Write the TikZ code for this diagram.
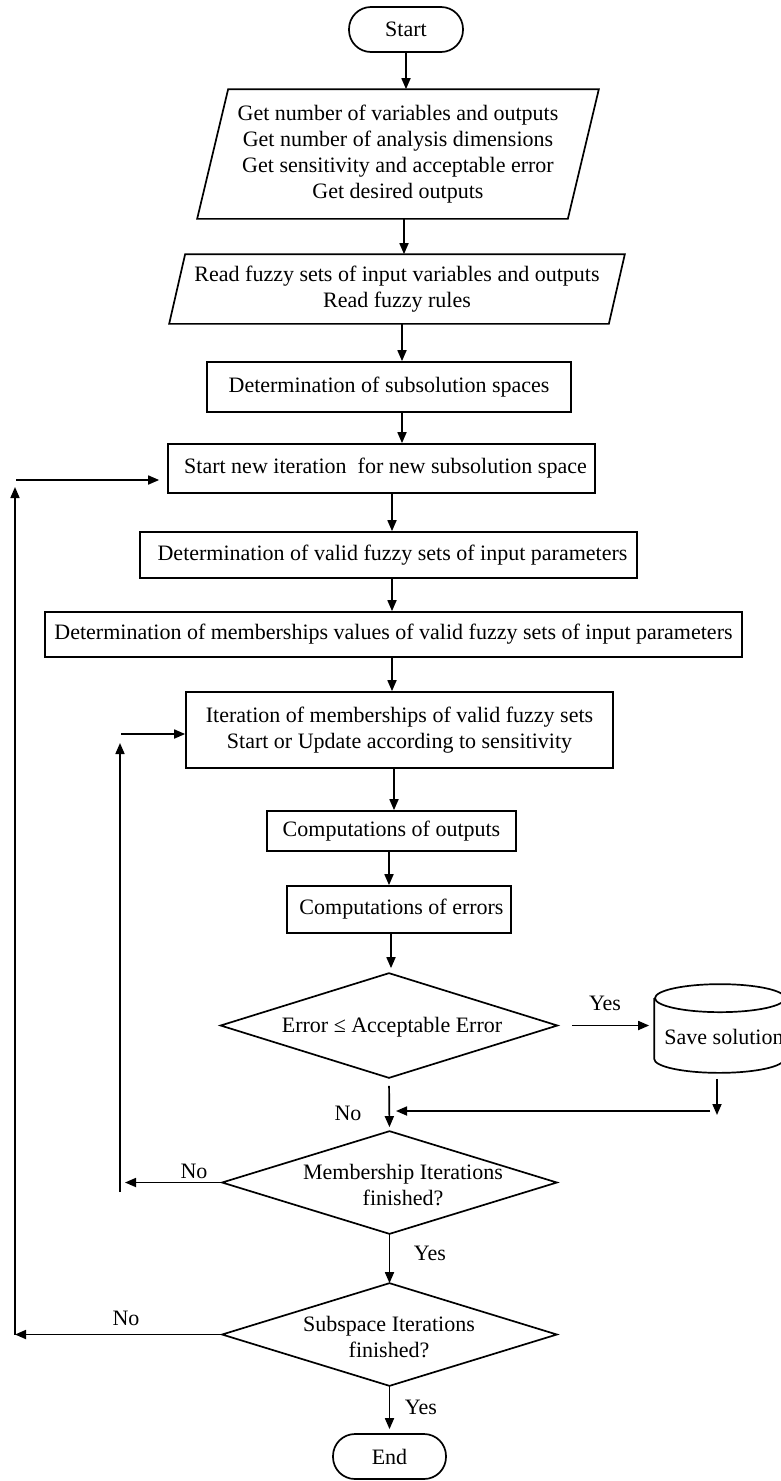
\documentclass[tikz,border=0pt]{standalone}
\usepackage{fontspec}
\setmainfont{Liberation Serif}
\usetikzlibrary{arrows.meta,calc}
\begin{document}
\begin{tikzpicture}[x=1pt,y=-1pt,
  font=\fontsize{22}{26}\selectfont,
  line width=1.7pt,
  arr/.style={-{Triangle[length=11pt,width=9pt]}},
  plainbox/.style={draw, rectangle, align=center, inner sep=0pt},
  ghost/.style={rectangle, align=center, inner sep=0pt},
  term/.style={draw, rectangle, rounded corners=22pt, minimum width=114pt, minimum height=45pt, inner sep=0pt},
  lbl/.style={inner sep=0pt}]
\fill[white] (0,0) rectangle (781,1481);
\useasboundingbox (0,0) rectangle (781,1481);

% terminals
\node[term] (start) at (406,29.5) {Start};
\node[term, minimum width=113pt] (end) at (389.5,1456.5) {End};

% parallelograms
\node[ghost, minimum width=369pt, minimum height=128pt] (p1) at (398,154)
  {Get number of variables and outputs\\Get number of analysis dimensions\\Get sensitivity and acceptable error\\Get desired outputs};
\draw ([xshift=15.5pt]p1.north west) -- ([xshift=15.5pt]p1.north east) -- ([xshift=-15.5pt]p1.south east) -- ([xshift=-15.5pt]p1.south west) -- cycle;

\node[ghost, minimum width=438pt, minimum height=68pt] (p2) at (397,289)
  {Read fuzzy sets of input variables and outputs\\Read fuzzy rules};
\draw ([xshift=8pt]p2.north west) -- ([xshift=8pt]p2.north east) -- ([xshift=-8pt]p2.south east) -- ([xshift=-8pt]p2.south west) -- cycle;

% process boxes
\node[plainbox, minimum width=364pt, minimum height=50pt] (b3) at (389,387) {Determination of subsolution spaces};
\node[plainbox, minimum width=427pt, minimum height=49pt] (b4) at (381.5,468.5) {\hspace{8pt}Start new iteration\ \ for new subsolution space};
\node[plainbox, minimum width=497pt, minimum height=46pt] (b5) at (388.5,555) {\hspace{8pt}Determination of valid fuzzy sets of input parameters};
\node[plainbox, minimum width=697pt, minimum height=45pt] (b6) at (393.5,634.5) {Determination of memberships values of valid fuzzy sets of input parameters};
\node[plainbox, minimum width=427pt, minimum height=76pt] (b7) at (399.5,730) {Iteration of memberships of valid fuzzy sets\\Start or Update according to sensitivity};
\node[plainbox, minimum width=249pt, minimum height=40pt] (b8) at (391.5,831) {Computations of outputs};
\node[plainbox, minimum width=224pt, minimum height=47pt] (b9) at (399,909.5) {\hspace{5pt}Computations of errors};

% decisions
\node[ghost, minimum width=335pt, minimum height=103pt] (d1) at (389,1025.5) {};
\draw (d1.north) -- (d1.east) -- (d1.south) -- (d1.west) -- cycle;
\node[ghost] (d1t) at (392,1027) {Error ≤ Acceptable Error};

\node[ghost, minimum width=333pt, minimum height=101pt] (d2) at (389.5,1182.5) {};
\draw (d2.north) -- (d2.east) -- (d2.south) -- (d2.west) -- cycle;
\node[ghost] (d2t) at (403,1185.5) {Membership Iterations\\finished?};

\node[ghost, minimum width=333pt, minimum height=101pt] (d3) at (389.5,1334.5) {};
\draw (d3.north) -- (d3.east) -- (d3.south) -- (d3.west) -- cycle;
\node[ghost] (d3t) at (389,1337.5) {Subspace Iterations\\finished?};

% storage
\node[ghost, minimum width=130pt, minimum height=87pt] (save) at (720,1028.5) {};
\draw ([yshift=-14pt]save.north west) -- ([yshift=14pt]save.south west)
  arc[start angle=180, end angle=360, x radius=65pt, y radius=14pt]
  -- ([yshift=-14pt]save.north east);
\draw ([yshift=-14pt]save.north) ellipse[x radius=65pt, y radius=14pt];
\node[ghost] (savet) at (724,1037) {Save solution};

% main flow connectors
\draw[arr] (start.south) -- (start.south |- p1.north);
\coordinate (c2) at ([xshift=6pt]p1.south);
\draw[arr] (c2) -- (c2 |- p2.north);
\coordinate (c3) at ([xshift=5pt]p2.south);
\draw[arr] (c3) -- (c3 |- b3.north);
\coordinate (c4) at ([xshift=13pt]b3.south);
\draw[arr] (c4) -- (c4 |- b4.north);
\coordinate (c5) at ([xshift=10.5pt]b4.south);
\draw[arr] (c5) -- (c5 |- b5.north);
\coordinate (c6) at ([xshift=3.5pt]b5.south);
\draw[arr] (c6) -- (c6 |- b6.north);
\coordinate (c7) at ([xshift=-1.5pt]b6.south);
\draw[arr] (c7) -- (c7 |- b7.north);
\coordinate (c8) at ([xshift=-5.5pt]b7.south);
\draw[arr] (c8) -- (c8 |- b8.north);
\coordinate (c9) at ([xshift=-2.5pt]b8.south);
\draw[arr] (c9) -- (c9 |- b9.north);
\coordinate (c10) at ([xshift=-8pt]b9.south);
\draw[arr, shorten >=5pt] (c10) -- (c10 |- d1.north);
\draw[arr, shorten <=8pt, shorten >=4pt] (d1.south) -- (d2.north);
\draw[arr] (d2.south) -- (d3.north);
\draw[arr, shorten >=4pt] (d3.south) -- (end.north);

% yes branch to storage and back
\draw[arr, shorten <=15pt, shorten >=5pt] (d1.east) -- (d1.east -| save.west);
\coordinate (svEnd) at (717,1115);
\draw[arr, shorten <=6pt] (svEnd |- save.south) -- (svEnd);
\coordinate (bk) at (710,1111);
\draw[arr, shorten >=7pt] (bk) -- (bk -| d1.south);

% inner loop
\coordinate (iBot) at (120,1192);
\coordinate (iTop) at (120,743);
\coordinate (iH) at (121,734);
\draw[arr, shorten >=5pt] (d2.west) -- (d2.west -| iBot);
\draw[arr] (iBot) -- (iTop);
\draw[arr] (iH) -- (iH -| b7.west);

% outer loop
\coordinate (oBot) at (15,1334.5);
\coordinate (oTop) at (15,487);
\coordinate (oH) at (16,480);
\draw[arr] (d3.west) -- (oBot);
\draw[arr] (oBot) -- (oTop);
\draw[arr, shorten >=8pt] (oH) -- (oH -| b4.west);

% labels
\node[lbl] (yes1) at (605,1003) {Yes};
\node[lbl] (no1) at (348,1113) {No};
\node[lbl] (no2) at (194,1171) {No};
\node[lbl] (yes2) at (430,1253) {Yes};
\node[lbl] (no3) at (126,1318) {No};
\node[lbl] (yes3) at (421,1407) {Yes};
\end{tikzpicture}
\end{document}
